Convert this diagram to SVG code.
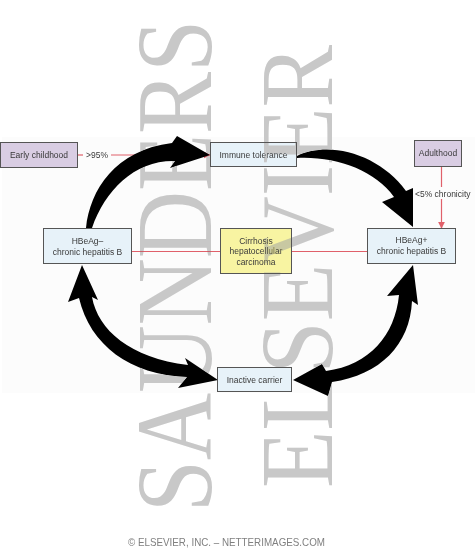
<svg xmlns="http://www.w3.org/2000/svg" width="475" height="550" viewBox="0 0 475 550">
<style>
.box{stroke:#555;stroke-width:1}
.blue{fill:#e7f2f9}
.purple{fill:#d9cde3}
.yellow{fill:#f8f4a2}
.t{font-family:"Liberation Sans",Arial,sans-serif;font-size:8.5px;fill:#3a3a3a;text-anchor:middle}
.red{stroke:#e0606a;stroke-width:1.2;fill:none}
.big{fill:#000}
.wm{font-family:"Liberation Serif","Times New Roman",serif;fill:#c8c8c8;mix-blend-mode:darken}
</style>
<defs>
<marker id="ah" viewBox="0 0 10 10" refX="9" refY="5" markerWidth="7" markerHeight="7" markerUnits="userSpaceOnUse" orient="auto">
<path d="M0,0 L10,5 L0,10 Z" fill="#e0606a"/>
</marker>
</defs>
<rect x="0" y="0" width="475" height="550" fill="#ffffff"/>
<rect x="2" y="137" width="473" height="256" fill="#fcfcfc"/>

<g id="connectors">
<line class="red" x1="78" y1="155" x2="83" y2="155"/>
<line class="red" x1="111" y1="155" x2="210" y2="155" marker-end="url(#ah)"/>
<text class="t" x="97" y="158">&gt;95%</text>
<line class="red" x1="441.5" y1="167" x2="441.5" y2="187"/>
<line class="red" x1="441.5" y1="199" x2="441.5" y2="228" marker-end="url(#ah)"/>
<text class="t" x="415" y="197" style="text-anchor:start">&lt;5% chronicity</text>
<line class="red" x1="132" y1="251.5" x2="220" y2="251.5"/>
<line class="red" x1="292" y1="251.5" x2="367" y2="251.5"/>
<path class="big" d="M86,228 C90,190 115,150 172,143 L177,136 L210,155 L170,168 L175,161 C135,160 105,190 92,228 Z"/>
<path class="big" d="M297,156 C330,140 380,155 406,191 L413,188 L413,227 L382,202 L394,197 C375,170 335,156 297,158 Z"/>
<path class="big" d="M82,265 L98,300 L92,297 C98,330 130,358 188,365 L185,358 L218,380 L178,388 L187,377 C130,375 90,345 79,298 L68,302 Z"/>
<path class="big" d="M413,265 L418,305 L412,301 C410,345 380,375 332,382 L328,396 L293,380 L322,364 L326,371 C370,365 395,335 399,295 L387,296 Z"/>
</g>

<g id="early-childhood">
<rect class="box purple" x="0.5" y="142.5" width="77" height="25"/>
<text class="t" x="39" y="158">Early childhood</text>
</g>
<g id="immune-tolerance">
<rect class="box blue" x="210.5" y="142.5" width="86" height="24"/>
<text class="t" x="253.5" y="157.5">Immune tolerance</text>
</g>
<g id="adulthood">
<rect class="box purple" x="414.5" y="140.5" width="47" height="26"/>
<text class="t" x="438" y="156">Adulthood</text>
</g>
<g id="hbeag-neg">
<rect class="box blue" x="43.5" y="228.5" width="88" height="35"/>
<text class="t" x="87.5" y="243.5">HBeAg–</text>
<text class="t" x="87.5" y="254.5">chronic hepatitis B</text>
</g>
<g id="cirrhosis">
<rect class="box yellow" x="220.5" y="228.5" width="71" height="45"/>
<text class="t" x="256" y="243.5">Cirrhosis</text>
<text class="t" x="256" y="254">hepatocellular</text>
<text class="t" x="256" y="264.5">carcinoma</text>
</g>
<g id="hbeag-pos">
<rect class="box blue" x="367.5" y="228.5" width="88" height="35"/>
<text class="t" x="411.5" y="243">HBeAg+</text>
<text class="t" x="411.5" y="254">chronic hepatitis B</text>
</g>
<g id="inactive-carrier">
<rect class="box blue" x="217.5" y="367.5" width="74" height="24"/>
<text class="t" x="254.5" y="382.5">Inactive carrier</text>
</g>

<g id="watermark">
<text class="wm" transform="translate(211,512) rotate(-90)" font-size="108" textLength="492" lengthAdjust="spacingAndGlyphs">SAUNDERS</text>
<text class="wm" transform="translate(332,488) rotate(-90)" font-size="103" textLength="443" lengthAdjust="spacingAndGlyphs">ELSEVIER</text>
</g>
<text x="128" y="546" font-family="'Liberation Sans',Arial,sans-serif" font-size="10.5" fill="#808080" textLength="197" lengthAdjust="spacingAndGlyphs">© ELSEVIER, INC. – NETTERIMAGES.COM</text>
</svg>
